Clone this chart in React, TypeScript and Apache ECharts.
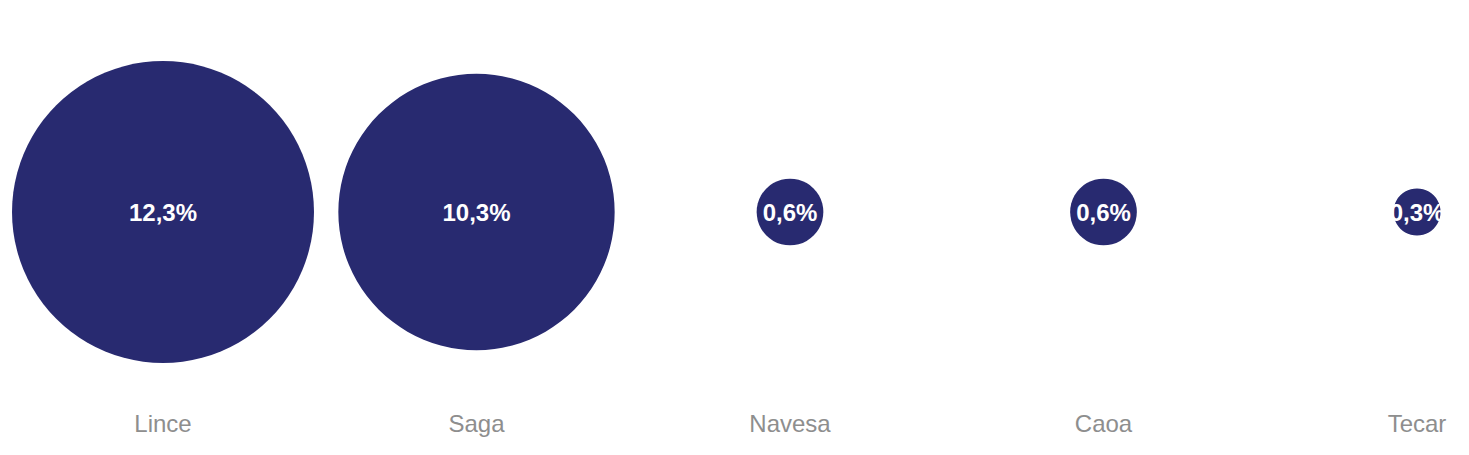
import React, { useEffect, useRef } from "react";
import * as echarts from "echarts";

const categories = ["Lince", "Saga", "Navesa", "Caoa", "Tecar"];
const values = [12.3, 10.3, 0.6, 0.6, 0.3];

const BUBBLE_COLOR = "#282a70";
const FONT = "'Liberation Sans', Arial, Helvetica, sans-serif";

export default function App() {
  const ref = useRef<HTMLDivElement>(null);
  useEffect(() => {
    if (!ref.current) return;
    const chart = echarts.init(ref.current, undefined, { renderer: "svg" });
    chart.setOption({
      animation: false,
      grid: { left: 155, right: 44, top: 16, height: 376, containLabel: false },
      xAxis: {
        type: "category",
        data: categories,
        boundaryGap: false,
        axisLine: { show: false },
        axisTick: { show: false },
        splitLine: { show: false },
        axisLabel: {
          color: "#8e8e8e",
          fontSize: 24,
          fontFamily: FONT,
          margin: 11,
          interval: 0,
        },
      },
      yAxis: {
        type: "value",
        min: -1,
        max: 1,
        show: false,
      },
      series: [
        {
          type: "scatter",
          data: values.map((v, i) => [categories[i], 0, v]),
          symbol: "circle",
          symbolSize: (d: number[]) => 86.1 * Math.sqrt(d[2]),
          itemStyle: { color: BUBBLE_COLOR, opacity: 1 },
          label: {
            show: true,
            position: "inside",
            color: "#ffffff",
            fontSize: 24,
            fontWeight: "bold",
            fontFamily: FONT,
            formatter: (p: any) => String(p.value[2].toFixed(1)).replace(".", ",") + "%",
          },
          emphasis: { disabled: true },
        },
      ],
    });
    return () => chart.dispose();
  }, []);
  return <div ref={ref} style={{ width: 1453, height: 439 }} />;
}
